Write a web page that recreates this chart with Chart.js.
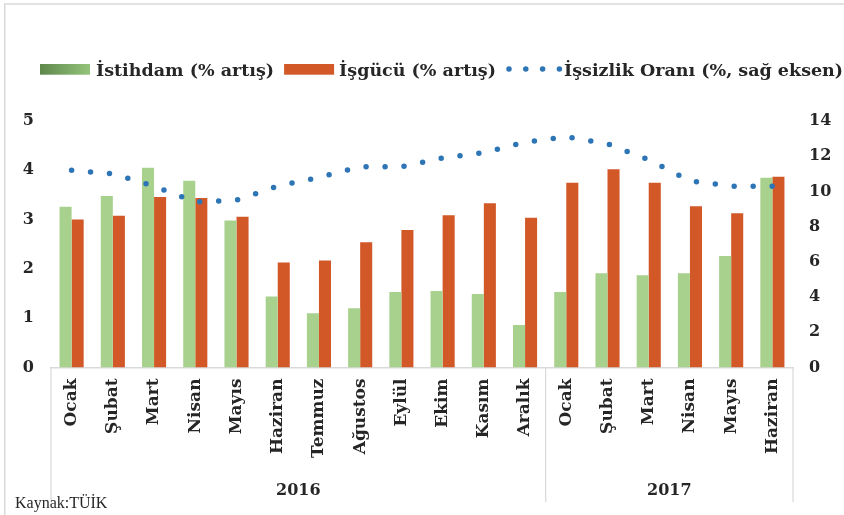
<!DOCTYPE html>
<html>
<head>
<meta charset="utf-8">
<script src="https://cdn.jsdelivr.net/npm/chart.js@4.4.1/dist/chart.umd.min.js"></script>
<style>
  html, body { margin: 0; padding: 0; background: #fff; }
  canvas { display: block; }
</style>
</head>
<body>
<canvas id="grafik" width="844" height="515"></canvas>
<script>
// veriler
const aylar = ['Ocak', 'Şubat', 'Mart', 'Nisan', 'Mayıs', 'Haziran', 'Temmuz', 'Ağustos', 'Eylül', 'Ekim', 'Kasım', 'Aralık',
               'Ocak', 'Şubat', 'Mart', 'Nisan', 'Mayıs', 'Haziran'];
const yillar = ['2016', '2017'];
const yilAySayisi = [12, 6];
const istihdam = [3.26, 3.48, 4.05, 3.79, 2.98, 1.44, 1.10, 1.20, 1.53, 1.55, 1.49, 0.86, 1.53, 1.91, 1.87, 1.91, 2.26, 3.85];
const isgucu = [3.00, 3.08, 3.46, 3.44, 3.06, 2.13, 2.17, 2.54, 2.79, 3.09, 3.33, 3.04, 3.75, 4.02, 3.75, 3.27, 3.13, 3.87];
const issizlik = [11.2, 11.0, 10.3, 9.4, 9.5, 10.3, 10.8, 11.4, 11.4, 11.9, 12.2, 12.8, 13.1, 12.7, 11.8, 10.6, 10.3, 10.3];
const solEksen = [0, 5, 1];   // min, max, adım
const sagEksen = [0, 14, 2];
const seriAdlari = ['İstihdam (% artış)', 'İşgücü (% artış)', 'İşsizlik Oranı (%, sağ eksen)'];
const kaynak = 'Kaynak:TÜİK';

const yaziRengi = '#262626';
const cizgiRengi = '#d9d9d9';
const yesil = '#a9d18e';
const turuncu = '#d25828';
const mavi = '#2e75b6';
const serif = "'DejaVu Serif', serif";

// üstteki lejant
const lejant = {
  id: 'lejant',
  afterDraw(chart) {
    const ctx = chart.ctx;
    ctx.save();
    ctx.font = 'bold 17.5px ' + serif;
    ctx.fillStyle = yaziRengi;
    ctx.textBaseline = 'alphabetic';
    let x = 40;
    const yTaban = 76;

    const grad = ctx.createLinearGradient(x, 0, x + 50, 0);
    grad.addColorStop(0, '#5f874c');
    grad.addColorStop(1, '#94c47a');
    ctx.fillStyle = grad;
    ctx.fillRect(x, 64, 50, 10.7);
    x += 56;
    ctx.fillStyle = yaziRengi;
    ctx.fillText(seriAdlari[0], x, yTaban);
    x += ctx.measureText(seriAdlari[0]).width + 10;

    ctx.fillStyle = turuncu;
    ctx.fillRect(x, 64, 50, 10.7);
    x += 55;
    ctx.fillStyle = yaziRengi;
    ctx.fillText(seriAdlari[1], x, yTaban);
    x += ctx.measureText(seriAdlari[1]).width + 13;

    ctx.strokeStyle = mavi;
    ctx.lineWidth = 5.5;
    ctx.lineCap = 'round';
    ctx.setLineDash([0, 16.8]);
    ctx.beginPath();
    ctx.moveTo(x, 69);
    ctx.lineTo(x + 51, 69);
    ctx.stroke();
    ctx.setLineDash([]);
    x += 55;
    ctx.fillText(seriAdlari[2], x, yTaban);
    ctx.restore();
  }
};

// çerçeve, yıl grupları ve kaynak notu
const yilGruplari = {
  id: 'yilGruplari',
  afterDraw(chart) {
    const ctx = chart.ctx;
    const xs = chart.scales.x;
    const alan = chart.chartArea;
    ctx.save();
    ctx.strokeStyle = cizgiRengi;
    ctx.lineWidth = 1.5;
    ctx.beginPath();
    ctx.moveTo(4, 4); ctx.lineTo(844, 4);
    ctx.moveTo(4.8, 4); ctx.lineTo(4.8, 515);
    ctx.stroke();

    // grup sınırları
    const sinirlar = [xs.left];
    let idx = 0;
    yilAySayisi.forEach(n => {
      idx += n;
      sinirlar.push(idx >= aylar.length ? xs.right
        : (xs.getPixelForTick(idx - 1) + xs.getPixelForTick(idx)) / 2);
    });
    ctx.lineWidth = 1.2;
    ctx.beginPath();
    sinirlar.forEach(sx => {
      ctx.moveTo(sx, alan.bottom);
      ctx.lineTo(sx, 502);
    });
    ctx.stroke();

    ctx.fillStyle = yaziRengi;
    ctx.font = 'bold 16px ' + serif;
    ctx.textAlign = 'center';
    ctx.textBaseline = 'middle';
    yillar.forEach((y, i) => {
      ctx.fillText(y, (sinirlar[i] + sinirlar[i + 1]) / 2, 491);
    });

    ctx.font = "16px 'Liberation Serif', serif";
    ctx.textAlign = 'left';
    ctx.textBaseline = 'alphabetic';
    ctx.fillText(kaynak, 15, 508);
    ctx.restore();
  }
};

const tikFont = { family: serif, size: 16, weight: 'bold' };

new Chart(document.getElementById('grafik'), {
  data: {
    labels: aylar,
    datasets: [
      {
        type: 'line', label: seriAdlari[2], data: issizlik, yAxisID: 'y1', order: 0,
        borderColor: mavi, borderWidth: 5.5, borderDash: [0, 19], borderCapStyle: 'round',
        pointRadius: 0, fill: false, tension: 0
      },
      {
        type: 'bar', label: seriAdlari[0], data: istihdam, yAxisID: 'y', order: 1,
        backgroundColor: yesil, categoryPercentage: 0.585, barPercentage: 1
      },
      {
        type: 'bar', label: seriAdlari[1], data: isgucu, yAxisID: 'y', order: 1,
        backgroundColor: turuncu, categoryPercentage: 0.585, barPercentage: 1
      }
    ]
  },
  options: {
    responsive: false,
    animation: false,
    layout: { padding: { top: 121, left: 0, right: 0, bottom: 0 } },
    plugins: { legend: { display: false }, tooltip: { enabled: false } },
    scales: {
      x: {
        grid: { display: false, drawTicks: false },
        border: { display: true, color: cizgiRengi, width: 1.5 },
        ticks: {
          maxRotation: 90, minRotation: 90, autoSkip: false, padding: 11,
          color: yaziRengi, font: { family: serif, size: 17, weight: 'bold' }
        },
        afterFit(s) { s.height = 147.5; }
      },
      y: {
        position: 'left', min: solEksen[0], max: solEksen[1],
        grid: { display: false, drawTicks: false },
        border: { display: false },
        ticks: { stepSize: solEksen[2], padding: 17, color: yaziRengi, font: tikFont },
        afterFit(s) { s.width = 51; }
      },
      y1: {
        position: 'right', min: sagEksen[0], max: sagEksen[1],
        grid: { display: false, drawTicks: false },
        border: { display: false },
        ticks: { stepSize: sagEksen[2], padding: 16, color: yaziRengi, font: tikFont },
        afterFit(s) { s.width = 51; }
      }
    }
  },
  plugins: [lejant, yilGruplari]
});
</script>
</body>
</html>
